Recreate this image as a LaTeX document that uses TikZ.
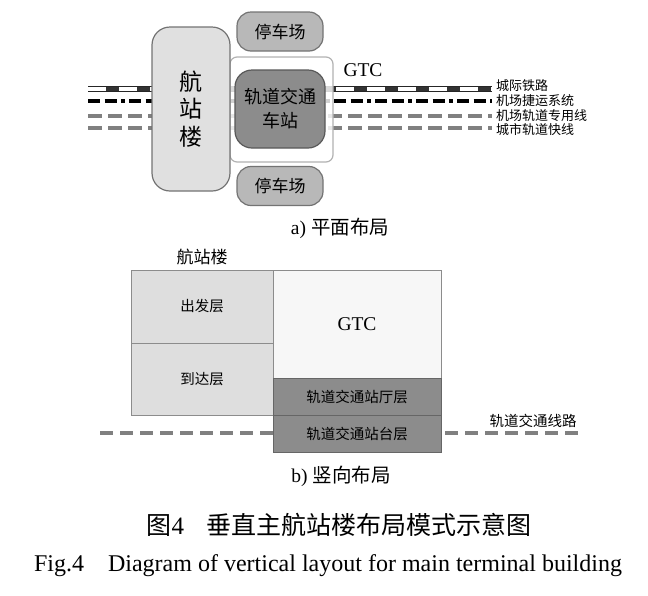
\documentclass[tikz,border=0pt]{standalone}
\usepackage{fontspec}
\setmainfont{Liberation Serif}
\newfontfamily\cjk{Noto Sans CJK SC}
\begin{document}
\begin{tikzpicture}[x=1pt,y=-1pt,
  every node/.style={inner sep=0pt,outer sep=0pt},
  termbox/.style={draw=black!55,fill=black!12,line width=1.2pt,rounded corners=18pt},
  parkbox/.style={draw=black!55,fill=black!28,line width=1.2pt,rounded corners=14pt},
  stationbox/.style={draw=black!65,fill=black!45,line width=1.2pt,rounded corners=17pt},
  gtcbox/.style={draw=black!30,fill=white,fill opacity=0.82,line width=1.2pt,rounded corners=7pt},
  raillbl/.style={font=\cjk\fontsize{13}{13}\selectfont,anchor=west},
  graydash/.style={draw=black!50,line width=3.6pt,dash pattern=on 14pt off 6pt},
  blockL/.style={draw=black!45,fill=black!13,line width=0.8pt},
  blockG/.style={draw=black!45,fill=black!3,line width=0.8pt},
  blockD/.style={draw=black!60,fill=black!45,line width=0.8pt},
  blocktxt/.style={font=\cjk\fontsize{14.5}{15}\selectfont},
]
\useasboundingbox (0,0) rectangle (648,595);

% ---------- a) plan ----------
\coordinate (l1s) at (88,89);  \coordinate (l1e) at (492,89);
\coordinate (l2s) at (88,101); \coordinate (l2e) at (492,101);
\coordinate (l3s) at (88,116); \coordinate (l3e) at (492,116);
\coordinate (l4s) at (88,128); \coordinate (l4e) at (492,128);

% intercity railway: outlined band with black/white segments
\draw[black!85,line width=5.4pt] (l1s) -- (l1e);
\draw[white,line width=3.2pt] (l1s) -- (l1e);
\draw[black!80,line width=3.2pt,dash pattern=on 13pt off 18pt,dash phase=-18pt] (l1s) -- (l1e);
% airport express: dash-dot
\draw[black,line width=3.8pt,dash pattern=on 12pt off 4.5pt on 12pt off 4.5pt on 3.5pt off 4.5pt] (l2s) -- (l2e);
% gray dashed lines
\draw[graydash] (l3s) -- (l3e);
\draw[graydash] (l4s) -- (l4e);

\node[raillbl] (t1) at (496,86) {城际铁路};
\node[raillbl] (t2) at (496,101) {机场捷运系统};
\node[raillbl] (t3) at (496,115.5) {机场轨道专用线};
\node[raillbl] (t4) at (496,130) {城市轨道快线};

\node[gtcbox,minimum width=103pt,minimum height=105pt] (gtc) at (281.5,109.5) {};
\node[font=\fontsize{19.5}{19.5}\selectfont] (gtclbl) at (363,70) {GTC};
\node[stationbox,minimum width=90pt,minimum height=78pt,align=center,
  font=\cjk\fontsize{18}{24}\selectfont] (station) at (280,109) {轨道交通\\车站};
\node[termbox,minimum width=78pt,minimum height=164pt,align=center,
  font=\cjk\fontsize{23}{27.5}\selectfont] (term) at (191,109) {航\\站\\楼};
\node[parkbox,minimum width=86pt,minimum height=39pt,font=\cjk\fontsize{17}{17}\selectfont] (park1) at (280,31.5) {停车场};
\node[parkbox,minimum width=86pt,minimum height=39pt,font=\cjk\fontsize{17}{17}\selectfont] (park2) at (280,186) {停车场};

\node[font=\fontsize{19.5}{20}\selectfont] (capa) at (340,228) {a) {\cjk 平面布局}};

% ---------- b) section ----------
\node[font=\cjk\fontsize{17}{17}\selectfont] (termlbl) at (202,257) {航站楼};
\draw[graydash,dash pattern=on 13pt off 7pt] (100,433) coordinate (d1s) -- (273,433) coordinate (d1e);
\draw[graydash,dash pattern=on 13pt off 7pt] (445,433) coordinate (d2s) -- (583,433) coordinate (d2e);

\node[blockL,blocktxt,minimum width=142pt,minimum height=73pt] (dep) at (202,306.5) {出发层};
\node[blockL,blocktxt,minimum width=142pt,minimum height=72pt] (arr) at (202,379) {到达层};
\node[blockG,minimum width=168pt,minimum height=108pt,font=\fontsize{19.5}{20}\selectfont] (gtcb) at (357,324) {GTC};
\node[blockD,blocktxt,minimum width=168pt,minimum height=37pt] (hall) at (357,396.5) {轨道交通站厅层};
\node[blockD,blocktxt,minimum width=168pt,minimum height=37pt] (plat) at (357,433.5) {轨道交通站台层};
\node[blocktxt] (linelbl) at (533,421) {轨道交通线路};

\node[font=\fontsize{19.5}{20}\selectfont] (capb) at (341,476) {b) {\cjk 竖向布局}};

% ---------- caption ----------
\node[font=\fontsize{25}{25}\selectfont] (cap1) at (339,525) {{\cjk 图}4\hspace{0.9em}{\cjk 垂直主航站楼布局模式示意图}};
\node[font=\fontsize{24}{24}\selectfont] (cap2) at (328,566) {Fig.4\hspace{1em}Diagram of vertical layout for main terminal building};
\end{tikzpicture}
\end{document}
